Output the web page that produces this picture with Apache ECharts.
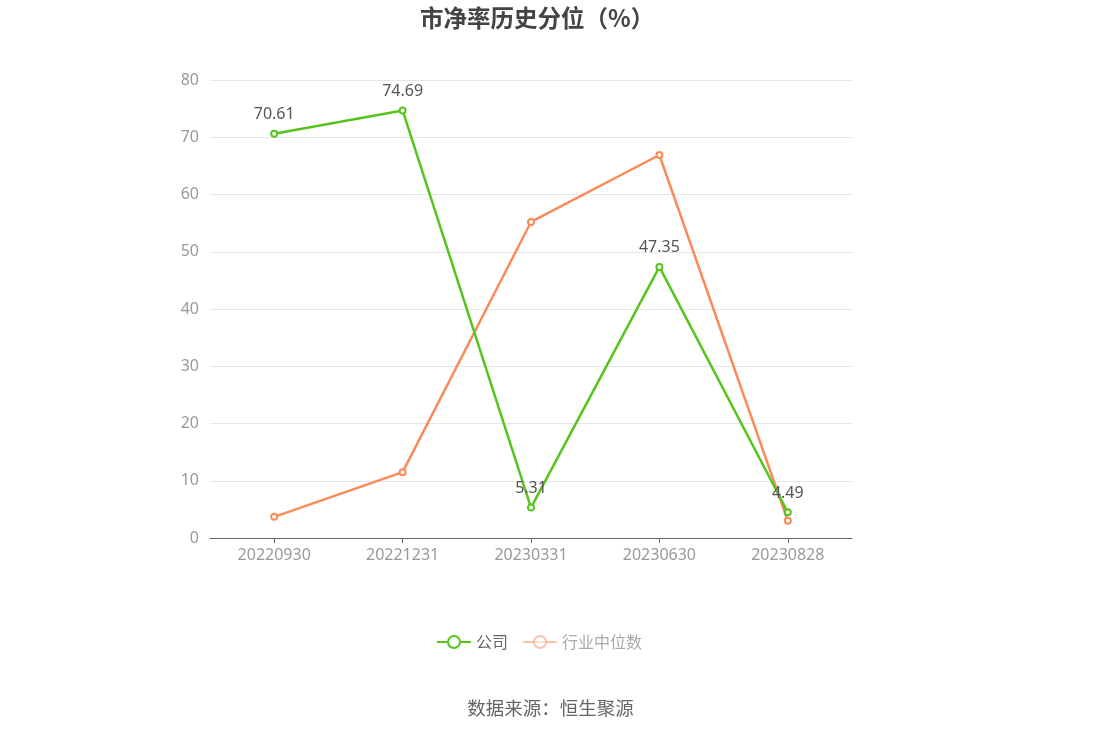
<!DOCTYPE html>
<html>
<head>
<meta charset="utf-8">
<script src="https://cdn.jsdelivr.net/npm/echarts@6/dist/echarts.min.js"></script>
<style>
  html, body { margin: 0; padding: 0; background: #fff; }
  #main { width: 1101px; height: 733px; }
</style>
</head>
<body>
<div id="main"></div>
<script>
// 数据
var categories = ['20220930', '20221231', '20230331', '20230630', '20230828'];
var companyValues = [70.61, 74.69, 5.31, 47.35, 4.49];
var industryValues = [3.7, 11.5, 55.2, 66.9, 3.0];
var yTicks = { min: 0, max: 80, interval: 10 };

var chart = echarts.init(document.getElementById('main'));

var option = {
    title: {
        text: '市净率历史分位（%）',
        left: 415,
        top: 1,
        textStyle: {
            fontFamily: 'Noto Sans CJK SC',
            fontSize: 23.5,
            fontWeight: 'bold',
            color: '#444'
        }
    },
    legend: {
        top: 629,
        left: 431,
        itemWidth: 34,
        itemHeight: 15,
        itemGap: 14,
        textStyle: { fontFamily: 'Noto Sans CJK SC', fontSize: 16, color: '#666' },
        data: [
            { name: '公司' },
            { name: '行业中位数', itemStyle: { opacity: 0.5 }, lineStyle: { opacity: 0.5 }, textStyle: { color: '#aaa' } }
        ]
    },
    graphic: [{
        type: 'text',
        left: 'center',
        top: 699,
        style: {
            text: '数据来源：恒生聚源',
            font: '18.5px "Noto Sans CJK SC"',
            fill: '#666'
        }
    }],
    grid: { left: 210, right: 249, top: 80, bottom: 195 },
    xAxis: {
        type: 'category',
        data: categories,
        boundaryGap: true,
        axisLine: { lineStyle: { color: '#666' } },
        axisTick: { show: true, alignWithLabel: true, lineStyle: { color: '#666' } },
        axisLabel: { color: '#999', fontSize: 16, margin: 9, fontFamily: 'Noto Sans' }
    },
    yAxis: {
        type: 'value',
        min: yTicks.min,
        max: yTicks.max,
        interval: yTicks.interval,
        axisLine: { show: false },
        axisTick: { show: false },
        axisLabel: { color: '#999', fontSize: 16, margin: 11, fontFamily: 'Noto Sans' },
        splitLine: { lineStyle: { color: '#e3e6ef' } }
    },
    series: [
        {
            name: '公司',
            type: 'line',
            data: companyValues,
            symbol: 'emptyCircle',
            symbolSize: 6,
            color: '#56c41d',
            lineStyle: { width: 2.5 },
            itemStyle: { borderWidth: 2 },
            label: {
                show: true,
                position: 'top',
                distance: 7,
                color: '#555',
                fontSize: 16,
                fontFamily: 'Noto Sans'
            },
            z: 3
        },
        {
            name: '行业中位数',
            type: 'line',
            data: industryValues,
            symbol: 'emptyCircle',
            symbolSize: 6,
            color: '#fa8a58',
            lineStyle: { width: 2.5 },
            itemStyle: { borderWidth: 2 },
            z: 2
        }
    ]
};

chart.setOption(option);
</script>
</body>
</html>
